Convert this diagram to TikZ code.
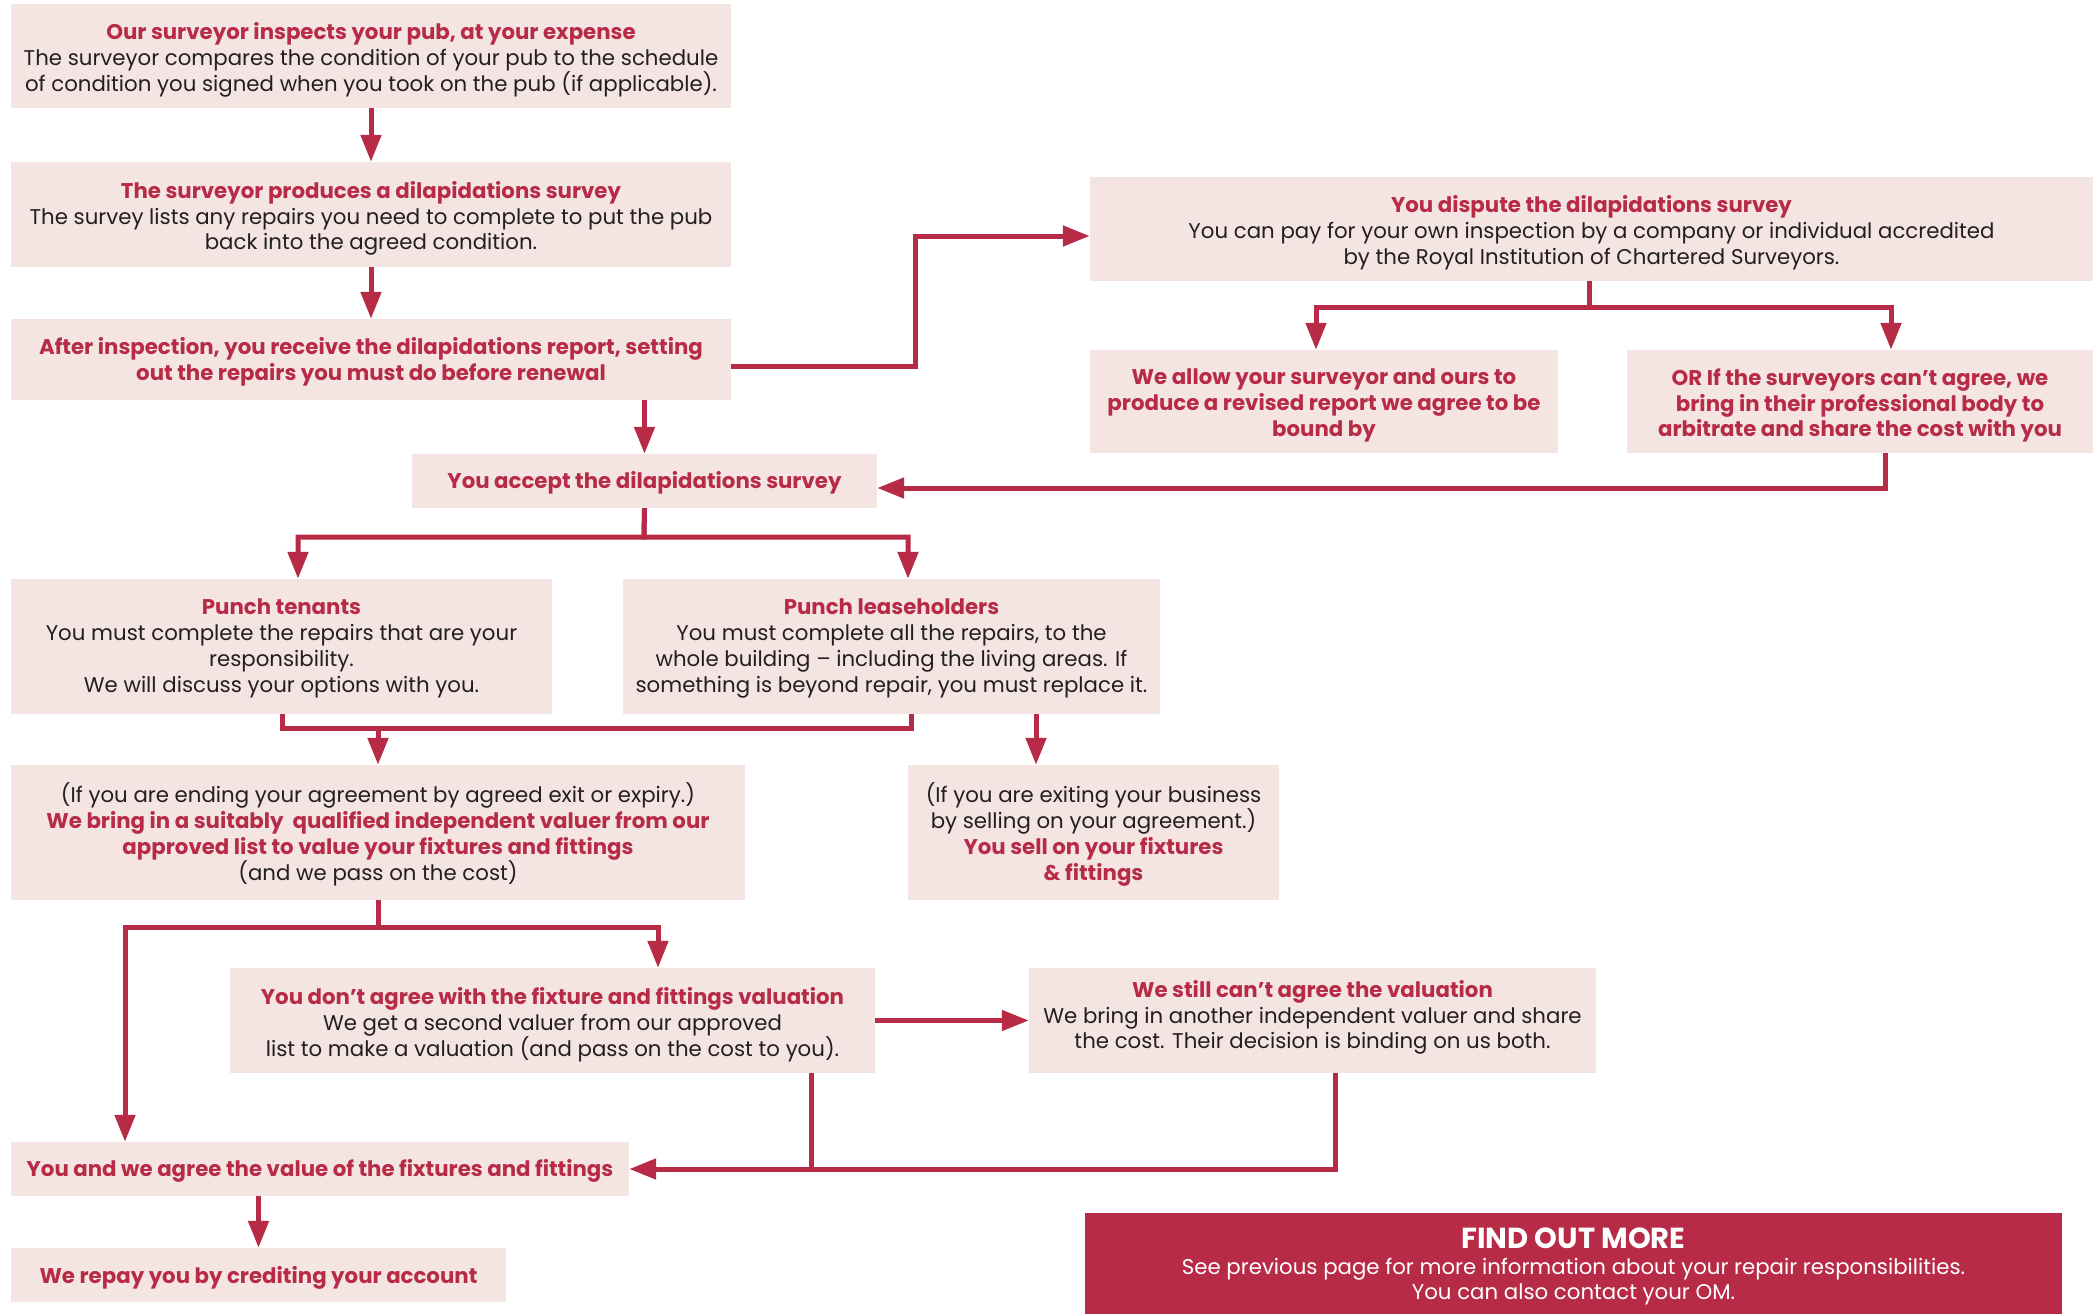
\documentclass[tikz,border=0pt]{standalone}
\usepackage{fontspec}
\setmainfont{Poppins}
\usetikzlibrary{arrows.meta}
\definecolor{brand}{HTML}{B72B47}
\definecolor{boxfill}{HTML}{F4E5E3}
\definecolor{bodytxt}{HTML}{231F20}
\newcommand\hdtxt[1]{{\bfseries\color{brand}#1}}
\begin{document}
\begin{tikzpicture}[x=1pt,y=-1pt,
  box/.style={fill=boxfill, inner sep=0pt},
  txt/.style={align=center, text=bodytxt, inner sep=0pt,
    font=\fontsize{21.3}{25.8}\selectfont},
  conn/.style={draw=brand, line width=5pt},
  arr/.style={conn, -{Triangle[length=27pt,width=20pt]}}]
\useasboundingbox (0,0) rectangle (2100,1314);
% boxes
\node[box, minimum width=720, minimum height=104] (b1) at (371,56) {};
\node[txt] (b1t) at ([yshift=-4pt]b1.center)
  {\hdtxt{Our surveyor inspects your pub, at your expense}\\
   The surveyor compares the condition of your pub to the schedule\\
   of condition you signed when you took on the pub (if applicable).};
\node[box, minimum width=720, minimum height=105] (b2) at (371,214.5) {};
\node[txt] (b2t) at ([yshift=-4pt]b2.center)
  {\hdtxt{The surveyor produces a dilapidations survey}\\
   The survey lists any repairs you need to complete to put the pub\\
   back into the agreed condition.};
\node[box, minimum width=720, minimum height=81] (b3) at (371,359.5) {};
\node[txt] (b3t) at ([yshift=-2pt]b3.center)
  {\hdtxt{After inspection, you receive the dilapidations report, setting}\\
   \hdtxt{out the repairs you must do before renewal}};
\node[box, minimum width=1003, minimum height=104] (disp) at (1591.5,229) {};
\node[txt] (dispt) at ([yshift=-4pt]disp.center)
  {\hdtxt{You dispute the dilapidations survey}\\
   You can pay for your own inspection by a company or individual accredited\\
   by the Royal Institution of Chartered Surveyors.};
\node[box, minimum width=468, minimum height=103] (allow) at (1324,401.5) {};
\node[txt] (allowt) at ([yshift=-4pt]allow.center)
  {\hdtxt{We allow your surveyor and ours to}\\
   \hdtxt{produce a revised report we agree to be}\\
   \hdtxt{bound by}};
\node[box, minimum width=466, minimum height=103] (orif) at (1860,401.5) {};
\node[txt] (orift) at ([yshift=-4pt]orif.center)
  {\hdtxt{OR If the surveyors can’t agree, we}\\
   \hdtxt{bring in their professional body to}\\
   \hdtxt{arbitrate and share the cost with you}};
\node[box, minimum width=465, minimum height=54] (accept) at (644.5,481) {};
\node[txt] (acceptt) at ([yshift=-2pt]accept.center)
  {\hdtxt{You accept the dilapidations survey}};
\node[box, minimum width=541, minimum height=135] (tenants) at (281.5,646.5) {};
\node[txt] (tenantst) at ([yshift=-2pt]tenants.center)
  {\hdtxt{Punch tenants}\\
   You must complete the repairs that are your\\
   responsibility.\\
   We will discuss your options with you.};
\node[box, minimum width=537, minimum height=135] (lease) at (891.5,646.5) {};
\node[txt] (leaset) at ([yshift=-2pt]lease.center)
  {\hdtxt{Punch leaseholders}\\
   You must complete all the repairs, to the\\
   whole building – including the living areas. If\\
   something is beyond repair, you must replace it.};
\node[box, minimum width=734, minimum height=135] (ending) at (378,832.5) {};
\node[txt] (endingt) at ([yshift=-2pt]ending.center)
  {(If you are ending your agreement by agreed exit or expiry.)\\
   \hdtxt{We bring in a suitably\ \ qualified independent valuer from our}\\
   \hdtxt{approved list to value your fixtures and fittings}\\
   (and we pass on the cost)};
\node[box, minimum width=371, minimum height=135] (exiting) at (1093.5,832.5) {};
\node[txt] (exitingt) at ([yshift=-2pt]exiting.center)
  {(If you are exiting your business\\
   by selling on your agreement.)\\
   \hdtxt{You sell on your fixtures}\\
   \hdtxt{\& fittings}};
\node[box, minimum width=645, minimum height=105] (dont) at (552.5,1020.5) {};
\node[txt] (dontt) at ([yshift=-4pt]dont.center)
  {\hdtxt{You don’t agree with the fixture and fittings valuation}\\
   We get a second valuer from our approved\\
   list to make a valuation (and pass on the cost to you).};
\node[box, minimum width=567, minimum height=105] (still) at (1312.5,1020.5) {};
\node[txt] (stillt) at ([yshift=3pt]still.center)
  {\hdtxt{We still can’t agree the valuation}\\
   We bring in another independent valuer and share\\
   the cost. Their decision is binding on us both.};
\node[box, minimum width=618, minimum height=54] (agree) at (320,1169) {};
\node[txt] (agreet) at ([yshift=-1.5pt]agree.center)
  {\hdtxt{You and we agree the value of the fixtures and fittings}};
\node[box, minimum width=495, minimum height=54] (repay) at (258.5,1275) {};
\node[txt] (repayt) at ([yshift=-3pt]repay.center)
  {\hdtxt{We repay you by crediting your account}};
\node[box, fill=brand, minimum width=977, minimum height=101] (find) at (1573.5,1263.5) {};
\node[txt, text=white] (findt) at ([yshift=-3pt]find.center)
  {{\bfseries\fontsize{29}{30}\selectfont FIND OUT MORE}\\
   See previous page for more information about your repair responsibilities.\\
   You can also contact your OM.};
% junction coordinates
\coordinate (e1) at (915,366);
\coordinate (e2) at (915,236);
\coordinate (d0) at (1589,307);
\coordinate (dL) at (1316,307);
\coordinate (dR) at (1891,307);
\coordinate (r0) at (1885,488);
\coordinate (s0) at (644,537);
\coordinate (sA) at (298,537);
\coordinate (sB) at (908,537);
\coordinate (m1) at (282,728);
\coordinate (m2) at (911,728);
\coordinate (xe) at (1036,714);
\coordinate (n0) at (378,927);
\coordinate (nA) at (125,927);
\coordinate (nB) at (658,927);
\coordinate (q1) at (811,1073);
\coordinate (q2) at (1335,1073);
% connectors
\draw[arr] (b1.south) -- (b2.north);
\draw[arr] (b2.south) -- (b3.north);
\draw[arr] (b3.east |- e1) -- (e1) -- (e2) -- (disp.west |- e2);
\draw[arr] (b3.south -| accept.north) -- (accept.north);
\draw[arr] (disp.south -| d0) -- (d0) -- (dL) -- (dL |- allow.north);
\draw[arr] (disp.south -| d0) -- (d0) -- (dR) -- (dR |- orif.north);
\draw[arr] (orif.south -| r0) -- (r0) -- (accept.east |- r0);
\draw[arr] (accept.south) -- (s0) -- (sA) -- (sA |- tenants.north);
\draw[arr] (accept.south) -- (s0) -- (sB) -- (sB |- lease.north);
\draw[conn] (tenants.south -| m1) -- (m1) -- (m2) -- (lease.south -| m2);
\draw[arr] (ending.north |- m1) -- (ending.north);
\draw[arr] (lease.south -| xe) -- (exiting.north -| xe);
\draw[arr] (ending.south -| n0) -- (n0) -- (nA) -- (nA |- agree.north);
\draw[arr] (ending.south -| n0) -- (n0) -- (nB) -- (nB |- dont.north);
\draw[arr] (dont.east) -- (still.west);
\draw[conn] (dont.south -| q1) -- (q1 |- agree.east);
\draw[arr] (still.south -| q2) |- (agree.east);
\draw[arr] (agree.south -| repay.north) -- (repay.north);
\end{tikzpicture}
\end{document}
